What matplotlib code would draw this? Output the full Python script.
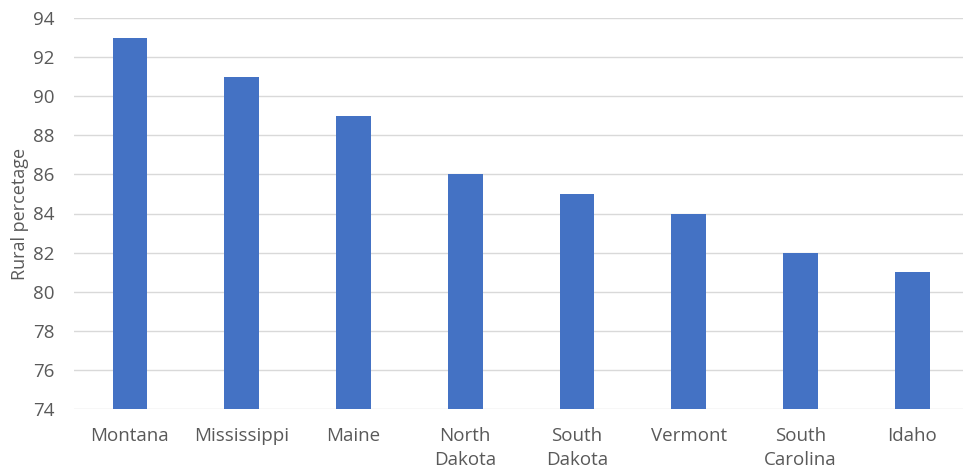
import matplotlib.pyplot as plt

states = ["Montana", "Mississippi", "Maine", "North\nDakota", "South\nDakota",
          "Vermont", "South\nCarolina", "Idaho"]
rural_pct = [93, 91, 89, 86, 85, 84, 82, 81]
y_ticks = [74, 76, 78, 80, 82, 84, 86, 88, 90, 92, 94]

plt.rcParams['font.family'] = ['Open Sans', 'DejaVu Sans']

fig = plt.figure(figsize=(9.63, 4.74), dpi=100)
ax = fig.add_axes([74 / 963, 1 - 409 / 474, 1 - 74 / 963, (409 - 18) / 474])

x = range(len(states))
ax.bar(x, [v - 74 for v in rural_pct], 0.31, bottom=74, color="#4472C4", zorder=3)

ax.set_ylim(74, 94)
ax.set_xlim(-0.5, 7.453)
ax.set_yticks(y_ticks)
ax.set_xticks(list(x))
ax.set_xticklabels(states, linespacing=1.45)
ax.yaxis.grid(True, color="#D9D9D9", linewidth=1, zorder=0)

for s in ax.spines.values():
    s.set_visible(False)
ax.tick_params(axis="both", length=0, colors="#595959", labelsize=13.5)
ax.tick_params(axis="y", pad=14)
ax.tick_params(axis="x", pad=13)
ax.set_ylabel("Rural percetage", color="#595959", fontsize=13, labelpad=3)

fig.savefig("out.png", dpi=100)
